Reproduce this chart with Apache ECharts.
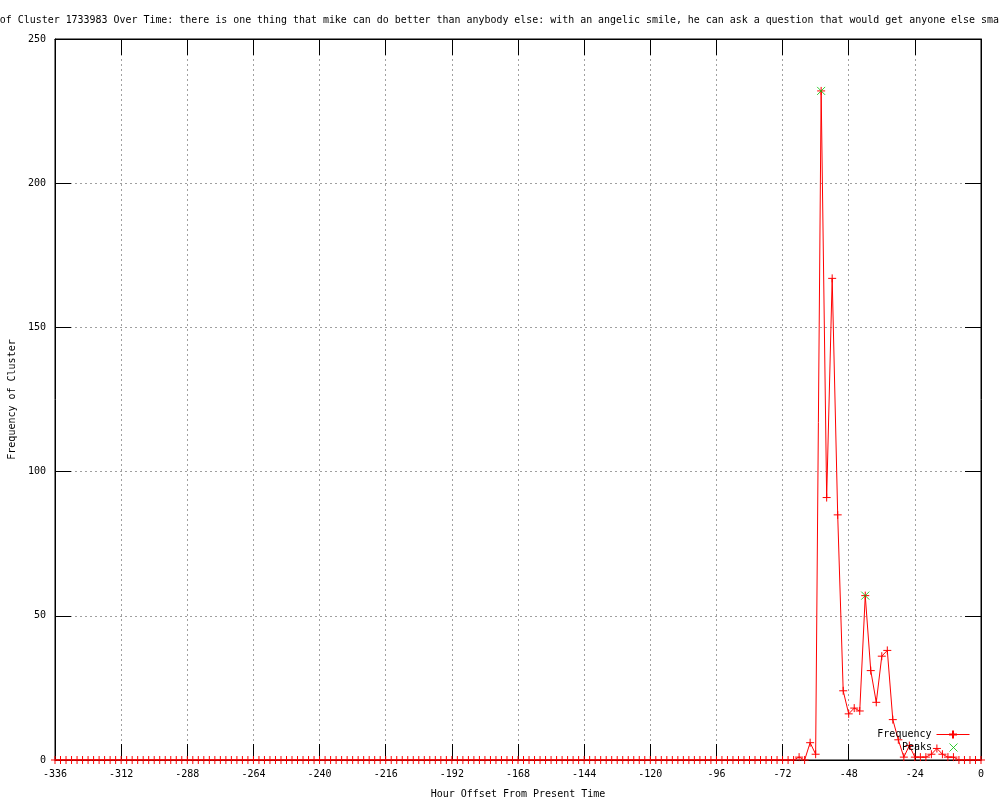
<!DOCTYPE html>
<html>
<head>
<meta charset="utf-8">
<script src="https://cdn.jsdelivr.net/npm/echarts@6/dist/echarts.min.js"></script>
<style>
html,body{margin:0;padding:0;background:#fff;}
#chart{width:1000px;height:800px;}
</style>
</head>
<body>
<div id="chart"></div>
<script>
// Title / axis names
const titleText = "Frequency of Cluster 1733983 Over Time: there is one thing that mike can do better than anybody else: with an angelic smile, he can ask a question that would get anyone else sma";
const xName = "Hour Offset From Present Time";
const yName = "Frequency of Cluster";

// Sampling: one point every 2 hours from -336 to 0
const hourStart = -336;
const hourStep = 2;

// Frequency values (one per 2-hour slot, from -336 to 0)
const freq = [
  0,0,0,0,0,0,0,0,0,0,0,0,      // -336 .. -314
  0,0,0,0,0,0,0,0,0,0,0,0,      // -312 .. -290
  0,0,0,0,0,0,0,0,0,0,0,0,      // -288 .. -266
  0,0,0,0,0,0,0,0,0,0,0,0,      // -264 .. -242
  0,0,0,0,0,0,0,0,0,0,0,0,      // -240 .. -218
  0,0,0,0,0,0,0,0,0,0,0,0,      // -216 .. -194
  0,0,0,0,0,0,0,0,0,0,0,0,      // -192 .. -170
  0,0,0,0,0,0,0,0,0,0,0,0,      // -168 .. -146
  0,0,0,0,0,0,0,0,0,0,0,0,      // -144 .. -122
  0,0,0,0,0,0,0,0,0,0,0,0,      // -120 .. -98
  0,0,0,0,0,0,0,0,0,0,0,0,      // -96 .. -74
  0,0,0,                        // -72 .. -68
  1,0,6,2,232,91,167,85,24,16,18,17, // -66 .. -44
  57,31,20,36,38,14,7,1,5,1,1,1,     // -42 .. -20
  2,4,2,1,1,0,0,0,0,0                // -18 .. 0
];

// Peaks
const peakHours = [-58, -42];
const peakValues = [232, 57];

// Axis ticks
const xMin = -336, xMax = 0, xInterval = 24;
const yMin = 0, yMax = 250, yInterval = 50;

const hours = freq.map((_, i) => hourStart + i * hourStep);
const freqData = hours.map((h, i) => [h, freq[i]]);
const peakData = peakHours.map((h, i) => [h, peakValues[i]]);

const FONT = "'DejaVu Sans Mono', 'Liberation Mono', monospace";
const plusPath = 'path://M0,4L8,4M4,0L4,8';
const crossPath = 'path://M0,0L8,8M8,0L0,8';

const chart = echarts.init(document.getElementById('chart'), null, {renderer: 'canvas'});

const baseX = {
  type: 'value', min: xMin, max: xMax, interval: xInterval,
  axisLine: {show: true, onZero: false, lineStyle: {color: '#000', width: 1}},
  axisTick: {show: true, inside: true, length: 16, lineStyle: {color: '#000'}},
  splitLine: {show: false},
  axisLabel: {show: false}
};
const baseY = {
  type: 'value', min: yMin, max: yMax, interval: yInterval,
  axisLine: {show: true, onZero: false, lineStyle: {color: '#000', width: 1}},
  axisTick: {show: true, inside: true, length: 16, lineStyle: {color: '#000'}},
  splitLine: {show: false},
  axisLabel: {show: false}
};

chart.setOption({
  animation: false,
  backgroundColor: '#fff',
  title: {
    text: titleText,
    left: -60, top: 14, padding: 0,
    textStyle: {fontFamily: FONT, fontSize: 9.95, fontWeight: 'normal', color: '#000', lineHeight: 12}
  },
  grid: {left: 55, right: 19, top: 39, bottom: 40, show: true, borderColor: '#000', borderWidth: 1,
         containLabel: false, outerBoundsMode: 'none'},
  legend: [
    {
      data: [{name: 'Frequency'}], right: 30, top: 728, padding: 0, align: 'right',
      itemWidth: 33, itemHeight: 10, itemGap: 0,
      lineStyle: {width: 1},
      textStyle: {fontFamily: FONT, fontSize: 10, color: '#000'}
    },
    {
      data: [{name: 'Peaks', icon: crossPath}], right: 40, top: 741, padding: 0, align: 'right',
      itemWidth: 33, itemHeight: 8, itemGap: 0,
      itemStyle: {color: 'none', borderColor: '#00c000', borderWidth: 1},
      textStyle: {fontFamily: FONT, fontSize: 10, color: '#000'}
    }
  ],
  xAxis: [
    Object.assign({}, baseX, {
      position: 'bottom',
      name: xName, nameLocation: 'middle', nameGap: 29,
      nameTextStyle: {fontFamily: FONT, fontSize: 10, color: '#000'},
      axisLabel: {show: true, margin: 9, color: '#000', fontFamily: FONT, fontSize: 10},
      splitLine: {show: true, lineStyle: {color: '#a0a0a0', type: [2, 3], width: 1}}
    }),
    Object.assign({}, baseX, {position: 'top'})
  ],
  yAxis: [
    Object.assign({}, baseY, {
      position: 'left',
      name: yName, nameLocation: 'middle', nameGap: 37, nameRotate: 90,
      nameTextStyle: {fontFamily: FONT, fontSize: 10, color: '#000'},
      axisLabel: {show: true, margin: 9, color: '#000', fontFamily: FONT, fontSize: 10},
      splitLine: {show: true, lineStyle: {color: '#a0a0a0', type: [2, 3], width: 1}}
    }),
    Object.assign({}, baseY, {position: 'right'})
  ],
  series: [
    {
      name: 'Frequency', type: 'line', xAxisIndex: 0, yAxisIndex: 0,
      data: freqData,
      showAllSymbol: true,
      symbol: plusPath, symbolSize: 8, symbolKeepAspect: true,
      lineStyle: {color: '#ff0000', width: 1},
      itemStyle: {color: 'none', borderColor: '#ff0000', borderWidth: 1},
      emphasis: {disabled: true}
    },
    {
      name: 'Peaks', type: 'scatter', xAxisIndex: 0, yAxisIndex: 0,
      data: peakData,
      symbol: crossPath, symbolSize: 8, symbolKeepAspect: true,
      itemStyle: {color: 'none', borderColor: '#00c000', borderWidth: 1},
      emphasis: {disabled: true},
      z: 3
    }
  ]
});
</script>
</body>
</html>
